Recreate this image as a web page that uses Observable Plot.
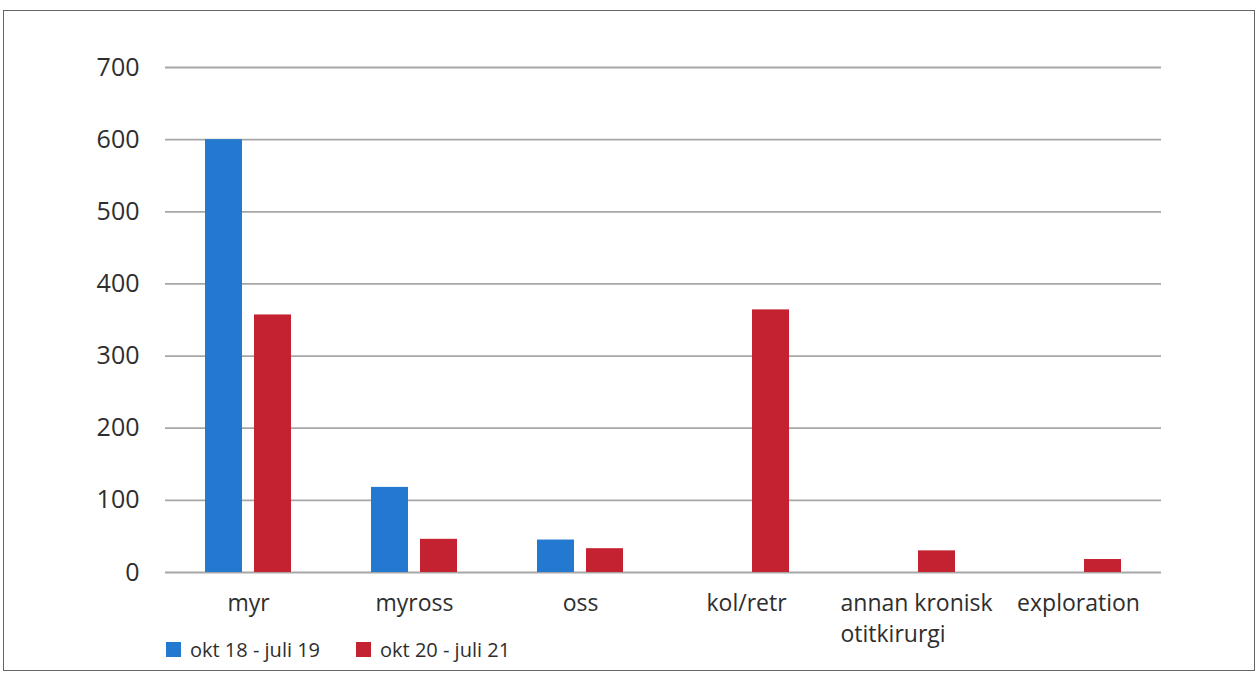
<!DOCTYPE html>
<html>
<head>
<meta charset="utf-8">
<script src="https://cdn.jsdelivr.net/npm/d3@7"></script>
<script src="https://cdn.jsdelivr.net/npm/@observablehq/plot@0.6"></script>
<style>
  html, body { margin: 0; padding: 0; background: #fff; }
  body { width: 1259px; height: 674px; position: relative; overflow: hidden; font-family: "Open Sans", sans-serif; }
  #frame { position: absolute; left: 3px; top: 10px; width: 1252px; height: 661px; border: 1.5px solid #666; box-sizing: border-box; pointer-events: none; }
  #chart svg { display: block; }
  #legend { position: absolute; left: 166px; top: 636px; display: flex; align-items: center; font-size: 20px; color: #2e2e2e; }
  .item { display: flex; align-items: center; margin-right: 36px; }
  .sw { width: 15px; height: 15px; margin-right: 9px; }
</style>
</head>
<body>
<div id="chart"></div>
<div id="legend"></div>
<div id="frame"></div>
<script>
const categories = ["myr", "myross", "oss", "kol/retr", "annan kronisk otitkirurgi", "exploration"];
const categoryLabels = ["myr", "myross", "oss", "kol/retr", "annan kronisk\notitkirurgi", "exploration"];
const series = ["okt 18 - juli 19", "okt 20 - juli 21"];
const values1819 = [600, 118, 45, 0, 0, 0];
const values2021 = [357, 46, 33, 364, 30, 18];
const yTicks = [0, 100, 200, 300, 400, 500, 600, 700];
const colors = ["#2379d0", "#c42231"];

const data = [];
categories.forEach((c, i) => {
  data.push({cat: c, series: series[0], value: values1819[i]});
  data.push({cat: c, series: series[1], value: values2021[i]});
});
const labelData = categories.map((c, i) => ({cat: c, label: categoryLabels[i]}));

const chart = Plot.plot({
  width: 1259,
  height: 674,
  marginTop: 67,
  marginBottom: 102,
  marginLeft: 165,
  marginRight: 98,
  style: {fontFamily: "Open Sans, sans-serif", color: "#2e2e2e", background: "transparent"},
  fx: {domain: categories, padding: 0, axis: null},
  x: {domain: series, paddingInner: 0.245, paddingOuter: 0.816, axis: null},
  y: {domain: [0, 700], axis: null},
  color: {domain: series, range: colors},
  marks: [
    Plot.ruleY(yTicks, {stroke: "#a6a6a6", strokeWidth: 1.8}),
    Plot.barY(data, {fx: "cat", x: "series", y: "value", fill: "series"}),
    Plot.axisY({ticks: yTicks, tickSize: 0, tickPadding: 26, fontSize: 25, fill: "#2e2e2e", label: null}),
    Plot.text(labelData.filter(d => !d.label.includes("\n")), {
      fx: "cat", text: "label", frameAnchor: "bottom", lineAnchor: "top", dy: 22,
      fontSize: 23, fill: "#2e2e2e"
    }),
    Plot.text(labelData.filter(d => d.label.includes("\n")), {
      fx: "cat", text: "label", frameAnchor: "bottom", lineAnchor: "top", dy: 16,
      textAnchor: "start", dx: -72, lineHeight: 1.35, fontSize: 23, fill: "#2e2e2e"
    })
  ]
});
document.getElementById("chart").appendChild(chart);

const legend = document.getElementById("legend");
series.forEach((s, i) => {
  const item = document.createElement("div");
  item.className = "item";
  const sw = document.createElement("div");
  sw.className = "sw";
  sw.style.background = colors[i];
  const t = document.createElement("span");
  t.textContent = s;
  item.appendChild(sw);
  item.appendChild(t);
  legend.appendChild(item);
});
</script>
</body>
</html>
